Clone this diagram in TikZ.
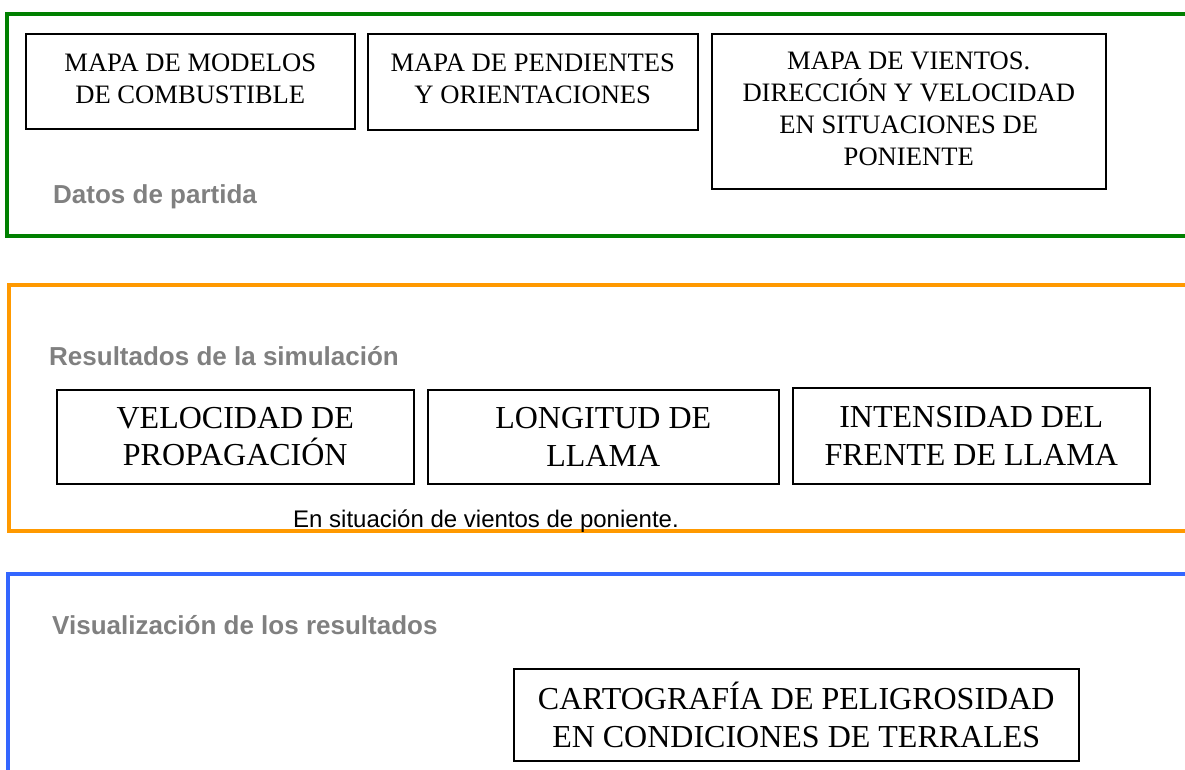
\documentclass[tikz,border=0pt]{standalone}
\usepackage{fontspec}
\setmainfont{Liberation Serif}
\newfontfamily\labelfont{Liberation Sans}
\definecolor{framegreen}{RGB}{0,128,0}
\definecolor{frameorange}{RGB}{255,153,0}
\definecolor{frameblue}{RGB}{51,102,255}
\definecolor{labelgray}{RGB}{128,128,128}
\tikzset{
  inbox/.style={draw, line width=1.5pt, inner sep=0pt, align=center, anchor=north west},
  smalltext/.style={font=\fontsize{26.6}{32}\selectfont},
  bigtext/.style={font=\fontsize{32}{37.5}\selectfont},
  stage/.style={font=\labelfont\bfseries\fontsize{26}{30}\selectfont, text=labelgray, anchor=base west, inner sep=0pt},
  frame/.style={line width=4.5pt}
}
\begin{document}
\begin{tikzpicture}[x=1pt, y=-1pt]
    \useasboundingbox (0,0) rectangle (1185,769);

    % datos de partida
    \draw[frame, framegreen] (1190,14) -- (7,14) -- (7,236) -- (1190,236);
    \node[inbox, smalltext, minimum width=329pt, minimum height=95pt] (fuel) at (25,33) {MAPA DE MODELOS\\DE COMBUSTIBLE\vphantom{g}};
    \node[inbox, smalltext, minimum width=330pt, minimum height=96pt] (slope) at (367,33) {MAPA DE PENDIENTES\\Y ORIENTACIONES\vphantom{g}};
    \node[inbox, smalltext, minimum width=394pt, minimum height=155pt] (wind) at (711,33) {MAPA DE VIENTOS.\\DIRECCIÓN Y VELOCIDAD\\EN SITUACIONES DE\\PONIENTE\vphantom{g}};
    \node[stage] (input) at (53,203) {Datos de partida};

    % resultados
    \draw[frame, frameorange] (1190,285) -- (9,285) -- (9,531) -- (1190,531);
    \node[stage] (results) at (49,365) {Resultados de la simulación};
    \node[inbox, bigtext, minimum width=357pt, minimum height=94pt] (speed) at (56,389) {VELOCIDAD DE\\PROPAGACIÓN};
    \node[inbox, bigtext, minimum width=351pt, minimum height=94pt] (flame) at (427,389) {LONGITUD DE\\LLAMA};
    \node[inbox, bigtext, minimum width=357pt, minimum height=96pt] (front) at (792,387) {INTENSIDAD DEL\\FRENTE DE LLAMA};
    \node[anchor=base west, inner sep=0pt, font=\labelfont\fontsize{24}{28}\selectfont] (note) at (293,527) {En situación de vientos de poniente.};

    % visualizacion
    \draw[frame, frameblue] (1190,574) -- (8,574) -- (8,775);
    \node[stage] (output) at (52,634) {Visualización de los resultados};
    \node[inbox, bigtext, minimum width=565pt, minimum height=92pt] (hazard) at (513,668) {CARTOGRAFÍA DE PELIGROSIDAD\\EN CONDICIONES DE TERRALES};
\end{tikzpicture}
\end{document}
